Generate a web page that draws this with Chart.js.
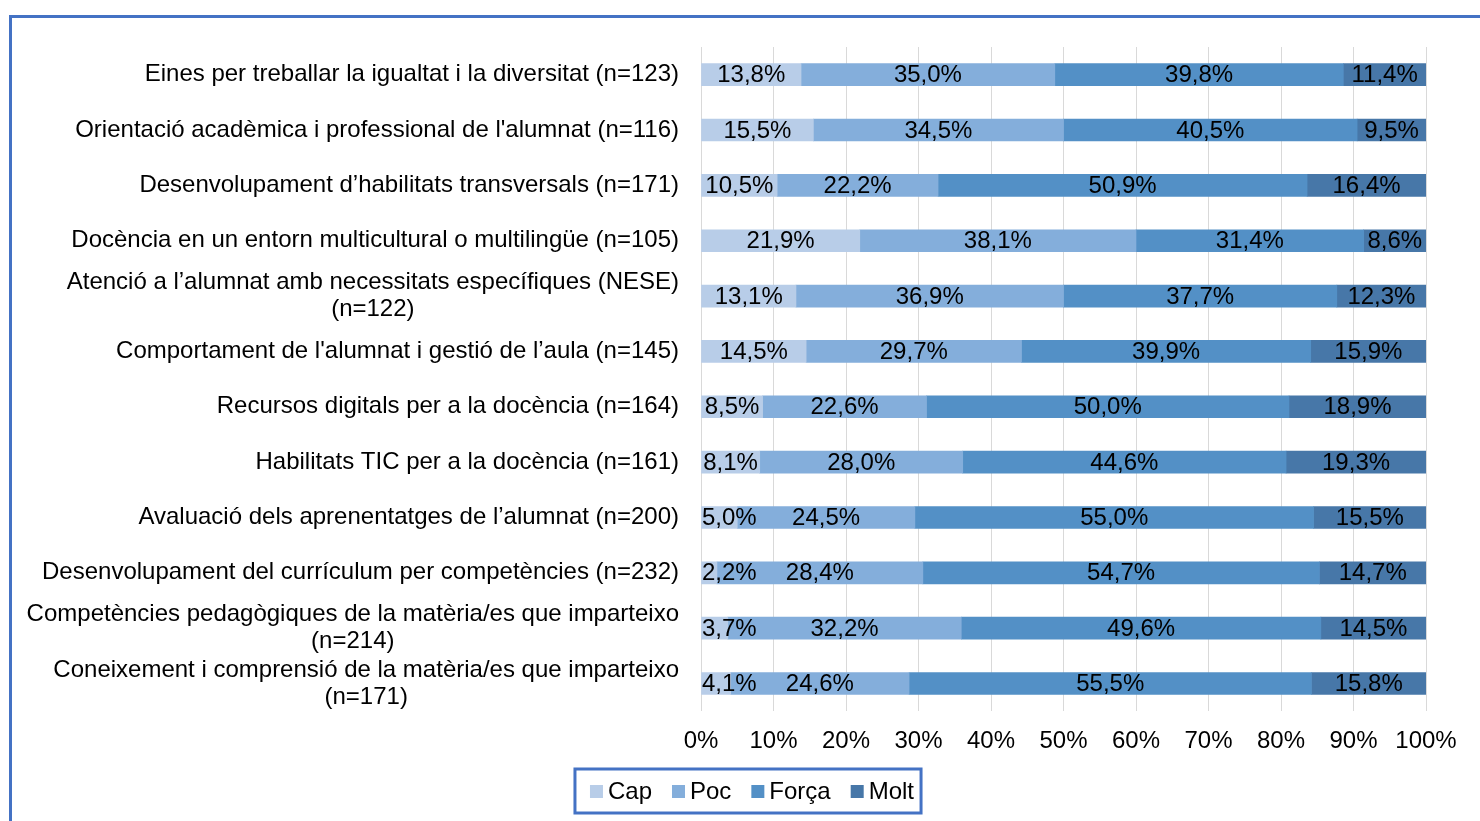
<!DOCTYPE html>
<html>
<head>
<meta charset="utf-8">
<script src="https://cdn.jsdelivr.net/npm/chart.js@4.4.1/dist/chart.umd.min.js"></script>
<style>
    html, body { margin: 0; padding: 0; background: #fff; overflow: hidden; }
    #wrap { position: relative; width: 1480px; height: 821px; }
    #frame { position: absolute; left: 9px; top: 15px; width: 1520px; height: 900px;
             border: 3px solid #4472C4; box-sizing: border-box; }
    #chart { position: absolute; left: 0; top: 0; }
</style>
</head>
<body>
<div id="wrap">
    <div id="frame"></div>
    <canvas id="chart" width="1480" height="821"></canvas>
</div>
<script>
// --- Data ---
const categories = [
    'Eines per treballar la igualtat i la diversitat (n=123)',
    "Orientació acadèmica i professional de l'alumnat (n=116)",
    'Desenvolupament d’habilitats transversals (n=171)',
    'Docència en un entorn multicultural o multilingüe (n=105)',
    ['Atenció a l’alumnat amb necessitats específiques (NESE)', '(n=122)'],
    "Comportament de l'alumnat i gestió de l’aula (n=145)",
    'Recursos digitals per a la docència (n=164)',
    'Habilitats TIC per a la docència (n=161)',
    'Avaluació dels aprenentatges de l’alumnat (n=200)',
    'Desenvolupament del currículum per competències (n=232)',
    ['Competències pedagògiques de la matèria/es que imparteixo', '(n=214)'],
    ['Coneixement i comprensió de la matèria/es que imparteixo', '(n=171)']
];
const seriesNames = ['Cap', 'Poc', 'Força', 'Molt'];
const cap   = [13.8, 15.5, 10.5, 21.9, 13.1, 14.5, 8.5, 8.1, 5.0, 2.2, 3.7, 4.1];
const poc   = [35.0, 34.5, 22.2, 38.1, 36.9, 29.7, 22.6, 28.0, 24.5, 28.4, 32.2, 24.6];
const forca = [39.8, 40.5, 50.9, 31.4, 37.7, 39.9, 50.0, 44.6, 55.0, 54.7, 49.6, 55.5];
const molt  = [11.4, 9.5, 16.4, 8.6, 12.3, 15.9, 18.9, 19.3, 15.5, 14.7, 14.5, 15.8];
const xTicks = [0, 10, 20, 30, 40, 50, 60, 70, 80, 90, 100];

const colors = ['#B8CDE8', '#84AEDB', '#5390C6', '#4777A8'];
const FAMILY = '"Liberation Sans", Arial, sans-serif';
const FONT = '24px ' + FAMILY;

const fmt = v => v.toFixed(1).replace('.', ',') + '%';

// --- Custom plugins ---
const yLabelsPlugin = {
    id: 'yLabels',
    afterDraw(chart) {
        const ctx = chart.ctx;
        const yScale = chart.scales.y;
        const right = chart.chartArea.left - 22;
        ctx.save();
        ctx.font = FONT;
        ctx.fillStyle = '#000';
        ctx.textAlign = 'center';
        ctx.textBaseline = 'middle';
        categories.forEach((lab, i) => {
            const lines = Array.isArray(lab) ? lab : [lab];
            const w = Math.max(...lines.map(l => ctx.measureText(l).width));
            const cx = right - w / 2;
            const y0 = yScale.getPixelForTick(i) - (lines.length - 1) * 27 / 2;
            lines.forEach((l, k) => ctx.fillText(l, cx, y0 + k * 27));
        });
        ctx.restore();
    }
};

const barLabelsPlugin = {
    id: 'barLabels',
    afterDatasetsDraw(chart) {
        const ctx = chart.ctx;
        ctx.save();
        ctx.font = FONT;
        ctx.fillStyle = '#000';
        ctx.textAlign = 'center';
        ctx.textBaseline = 'middle';
        chart.data.datasets.forEach((ds, di) => {
            chart.getDatasetMeta(di).data.forEach((bar, i) => {
                const txt = fmt(ds.data[i]);
                const w = ctx.measureText(txt).width;
                let x = (bar.x + bar.base) / 2;
                x = Math.max(x, chart.chartArea.left + w / 2 + 1);
                ctx.fillText(txt, x, bar.y + 1);
            });
        });
        ctx.restore();
    }
};

// legend drawn by hand: small gap between swatch and text, framed box
const legendPlugin = {
    id: 'boxLegend',
    afterDraw(chart) {
        const ctx = chart.ctx;
        const items = chart.data.datasets.map(ds => ({ text: ds.label, color: ds.backgroundColor }));
        ctx.save();
        ctx.font = FONT;
        const widths = items.map(it => ctx.measureText(it.text).width);
        const inner = widths.reduce((a, w) => a + 18 + w, 0) + 20 * (items.length - 1);
        const boxW = inner + 15 + 7;
        const cx = 748, cy = 791;
        const left = cx - boxW / 2;
        ctx.strokeStyle = '#4472C4';
        ctx.lineWidth = 3;
        ctx.strokeRect(left, cy - 22, boxW, 44);
        let x = left + 15;
        ctx.textBaseline = 'middle';
        ctx.textAlign = 'left';
        items.forEach((it, i) => {
            ctx.fillStyle = it.color;
            ctx.fillRect(x, cy - 6, 13, 13);
            ctx.fillStyle = '#000';
            ctx.fillText(it.text, x + 18, cy + 1);
            x += 18 + widths[i] + 20;
        });
        ctx.restore();
    }
};

// --- Chart ---
new Chart(document.getElementById('chart'), {
    type: 'bar',
    data: {
        labels: categories,
        datasets: [cap, poc, forca, molt].map((d, i) => ({
            label: seriesNames[i],
            data: d,
            backgroundColor: colors[i],
            borderWidth: 0,
            barThickness: 22
        }))
    },
    options: {
        indexAxis: 'y',
        responsive: false,
        animation: false,
        layout: { padding: { left: 0, right: 54, top: 47, bottom: 49 } },
        scales: {
            x: {
                stacked: true,
                min: 0,
                max: 100,
                border: { display: false },
                grid: { color: '#D9D9D9', lineWidth: 1, drawTicks: false },
                afterBuildTicks(scale) { scale.ticks = xTicks.map(v => ({ value: v })); },
                ticks: {
                    padding: 16,
                    color: '#000',
                    font: { family: FAMILY, size: 24 },
                    maxRotation: 0,
                    callback: v => v + '%'
                }
            },
            y: {
                stacked: true,
                border: { display: false },
                grid: { display: false, drawTicks: false },
                ticks: { display: false },
                afterFit(scale) { scale.width = 701; }
            }
        },
        plugins: {
            legend: { display: false },
            tooltip: { enabled: false }
        }
    },
    plugins: [yLabelsPlugin, barLabelsPlugin, legendPlugin]
});
</script>
</body>
</html>
